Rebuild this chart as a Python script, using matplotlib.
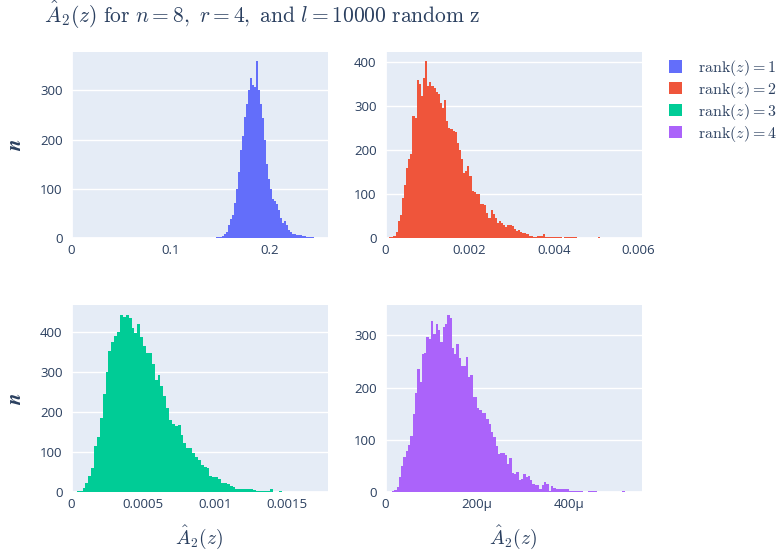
import matplotlib
matplotlib.use("Agg")
import matplotlib.pyplot as plt
from matplotlib.ticker import FixedLocator, FixedFormatter
from matplotlib.patches import Patch

plt.rcParams['mathtext.fontset'] = 'cm'
plt.rcParams['font.family'] = ['Open Sans', 'DejaVu Sans']

TXT = '#2a3f5f'
BG = '#e5ecf6'

# histogram counts, bins start at start, fixed width
start1, width1 = 0.146, 0.002
counts1 = [3, 2, 3, 5, 8, 12, 28, 40, 47, 71,
           100, 135, 180, 208, 247, 272, 300, 325, 312, 308,
           360, 300, 272, 245, 200, 150, 120, 100, 80, 75,
           70, 58, 42, 32, 35, 26, 16, 12, 9, 8,
           7, 7, 6, 5, 4, 3, 3, 2, 2, 1,
           1, 1, 0, 1, 1]

start2, width2 = 0.0, 0.00005
counts2 = [0, 1, 3, 4, 6, 14, 39, 52, 92, 120,
           159, 180, 192, 276, 272, 358, 350, 322, 362, 401,
           344, 353, 344, 340, 331, 326, 306, 295, 313, 265,
           250, 248, 242, 241, 216, 200, 180, 148, 152, 163,
           140, 107, 105, 101, 101, 78, 77, 75, 58, 45,
           65, 55, 45, 35, 39, 34, 30, 26, 30, 30,
           28, 21, 17, 18, 14, 13, 12, 9, 6, 5,
           4, 4, 5, 5, 6, 9, 4, 3, 3, 3,
           2, 2, 2, 2, 1, 2, 3, 2, 3, 2,
           2, 1, 1, 1, 1, 0, 1, 0, 1, 0,
           1, 4, 1, 0, 0, 1, 0, 1, 0, 0,
           0, 1, 0, 1, 0, 0, 0, 0, 1, 0]

start3, width3 = 0.0, 0.00002
counts3 = [0, 1, 2, 4, 10, 22, 40, 60, 115, 138,
           185, 245, 300, 352, 375, 390, 400, 443, 438, 442,
           435, 410, 397, 421, 387, 366, 349, 349, 320, 281,
           293, 265, 240, 210, 180, 170, 166, 168, 143, 122,
           110, 110, 98, 88, 80, 68, 64, 60, 40, 37,
           38, 33, 24, 22, 21, 15, 12, 9, 8, 7,
           7, 7, 7, 6, 4, 3, 3, 3, 3, 7,
           1, 1, 2, 1, 1, 1, 0, 1, 1, 0,
           1, 0, 1, 0, 1, 0, 1, 0, 1]

start4, width4 = 0.0, 5e-6
counts4 = [0, 0, 1, 2, 4, 11, 30, 51, 68, 78,
           90, 108, 150, 190, 235, 210, 264, 267, 296, 293,
           327, 303, 322, 311, 288, 316, 321, 339, 333, 275,
           264, 283, 256, 242, 241, 258, 221, 224, 182, 182,
           161, 158, 152, 152, 140, 131, 115, 105, 89, 73,
           76, 76, 71, 55, 65, 36, 35, 39, 24, 25,
           35, 30, 31, 24, 16, 14, 14, 6, 14, 19,
           16, 3, 12, 8, 6, 6, 6, 7, 7, 6,
           3, 2, 2, 2, 2, 2, 1, 1, 2, 2,
           2, 2, 1, 1, 0, 1, 1, 0, 1, 1,
           0, 1, 0, 2, 1, 0, 1, 0, 1, 1, 1]

colors = ['#636efa', '#ef553b', '#00cc96', '#ab63fa']
names = [r'$\mathrm{rank}(z) = 1$', r'$\mathrm{rank}(z) = 2$',
         r'$\mathrm{rank}(z) = 3$', r'$\mathrm{rank}(z) = 4$']

xticks = [[0, 0.1, 0.2], [0, 0.002, 0.004, 0.006],
          [0, 0.0005, 0.001, 0.0015], [0, 200e-6, 400e-6]]
xticklabels = [['0', '0.1', '0.2'], ['0', '0.002', '0.004', '0.006'],
               ['0', '0.0005', '0.001', '0.0015'], ['0', '200μ', '400μ']]
yticks = [[0, 100, 200, 300], [0, 100, 200, 300, 400],
          [0, 100, 200, 300, 400], [0, 100, 200, 300]]
xlims = [0.258, 0.00608, 0.00178, 557e-6]
ylims = [378, 422, 468, 358]

W, H = 783, 559
fig = plt.figure(figsize=(W / 100, H / 100), dpi=100)

# pixel boxes: left, top, right, bottom
boxes = [(71, 52, 327.7, 238.3), (385, 52, 641.7, 238.3),
         (71, 305, 327.7, 492.3), (385, 305, 641.7, 492.3)]

data = [(start1, width1, counts1), (start2, width2, counts2),
        (start3, width3, counts3), (start4, width4, counts4)]

for i, (l, t, r, b) in enumerate(boxes):
    ax = fig.add_axes([l / W, 1 - b / H, (r - l) / W, (b - t) / H])
    ax.set_facecolor(BG)
    s, w, c = data[i]
    lefts = [s + k * w for k in range(len(c))]
    ax.bar(lefts, c, width=w, align='edge', color=colors[i], linewidth=0, zorder=2)
    ax.set_xlim(0, xlims[i])
    ax.set_ylim(0, ylims[i])
    ax.xaxis.set_major_locator(FixedLocator(xticks[i]))
    ax.xaxis.set_major_formatter(FixedFormatter(xticklabels[i]))
    ax.set_yticks(yticks[i])
    ax.set_yticklabels([str(v) for v in yticks[i]])
    ax.grid(axis='y', color='white', linewidth=1, zorder=1)
    ax.axhline(0, color='white', linewidth=2, zorder=1)
    ax.axvline(0, color='white', linewidth=2, zorder=1)
    ax.tick_params(length=0, labelsize=9.5, labelcolor=TXT)
    ax.tick_params(axis='y', pad=6)
    ax.tick_params(axis='x', pad=4)
    for sp in ax.spines.values():
        sp.set_visible(False)
    if i % 2 == 0:
        ax.set_ylabel(r'$\boldsymbol{n}$', fontsize=15, color=TXT, labelpad=10)
    if i >= 2:
        ax.set_xlabel(r'$\hat{A}_2(z)$', fontsize=14, color=TXT, labelpad=9)

fig.text(44 / W, 1 - 15 / H,
         r'$\hat{A}_2(z)\ \mathrm{for}\ n = 8,\ r = 4,\ \mathrm{and}\ l = 10000\ \mathrm{random\ z}$',
         fontsize=15.5, color=TXT, va='center', ha='left')

handles = [Patch(facecolor=colors[k], edgecolor='none') for k in range(4)]
fig.legend(handles, names, loc='upper left', bbox_to_anchor=(669 / W, 1 - 58 / H),
           frameon=False, fontsize=11.5, labelcolor=TXT, handlelength=0.8, handleheight=0.8,
           handletextpad=1.0, labelspacing=0.12, borderaxespad=0, borderpad=0)

fig.savefig('out.png', dpi=100, facecolor='white')
